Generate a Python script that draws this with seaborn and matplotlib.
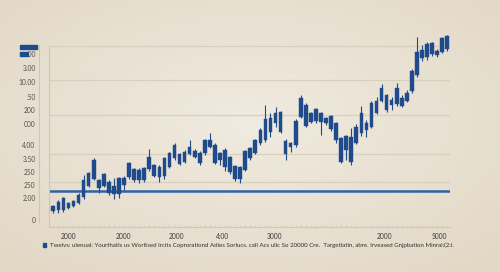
import numpy as np
import matplotlib.pyplot as plt
import matplotlib.patches as mpatches
import seaborn as sns

sns.set_theme(style="white")
plt.rcParams['font.family'] = ['Lato', 'DejaVu Sans']

# candle values (price level units)
opens  = [16, 17, 17, 24, 21, 24, 30, 41, 48, 47, 41, 45, 41, 33, 42, 50, 58, 57, 47, 58,
          62, 60, 51, 60, 69, 73, 65, 73, 76, 74, 74, 80, 82, 67, 77, 70, 61, 60, 57, 69,
          74, 84, 87, 109, 104, 115, 86, 80, 82, 110, 122, 114, 106, 114, 109, 111, 104, 89, 77, 90,
          84, 94, 104, 100, 114, 126, 132, 127, 123, 129, 126, 136, 152, 169, 170, 173, 176, 175, 178]
closes = [21, 25, 29, 19, 26, 32, 47, 54, 67, 39, 53, 34, 33, 49, 49, 64, 47, 47, 59, 70,
          51, 50, 69, 74, 82, 63, 75, 80, 70, 64, 87, 87, 64, 74, 60, 55, 48, 48, 76, 79,
          87, 97, 108, 95, 114, 95, 73, 84, 106, 129, 101, 105, 118, 105, 104, 98, 87, 65, 91, 65,
          100, 114, 97, 124, 126, 139, 117, 122, 139, 121, 134, 156, 175, 177, 183, 184, 172, 189, 191]
highs  = [22, 27, 30, 25, 27, 34, 52, 55, 69, 48, 54, 47, 49, 50, 51, 65, 59, 59, 60, 78,
          63, 62, 70, 75, 84, 74, 77, 87, 78, 76, 88, 94, 84, 75, 79, 71, 62, 61, 77, 80,
          88, 99, 122, 114, 120, 116, 88, 85, 108, 132, 124, 115, 119, 115, 110, 112, 105, 90, 92, 99,
          103, 121, 107, 126, 130, 143, 133, 130, 144, 132, 137, 158, 190, 182, 185, 185, 178, 190, 192]
lows   = [14, 14, 15, 18, 20, 23, 28, 40, 47, 34, 40, 32, 28, 29, 37, 48, 45, 44, 45, 56,
          50, 45, 48, 59, 67, 62, 64, 72, 69, 62, 72, 79, 63, 62, 56, 53, 46, 44, 56, 67,
          73, 82, 85, 90, 100, 94, 67, 75, 80, 109, 100, 104, 104, 92, 102, 96, 84, 64, 67, 62,
          83, 91, 90, 99, 113, 125, 115, 117, 121, 120, 125, 134, 150, 166, 167, 171, 170, 174, 176]

grid_levels = [45, 73, 112, 147, 181]
axis_ticks = [17, 36, 73, 112, 147, 181]
ref_level = 36.5

left_labels = [".00", "3.00", "10.00", ".50", "200", "000", "4.00", "3.50", "250", "250", "2.00", "0"]
left_label_pos = [173, 159, 145, 130, 117, 103, 82, 68, 55, 42, 29, 7]

x_labels = ["2000", "2000", "2000", "4:00", "3000", "2000", "5000"]
x_label_pos = [3.1, 13.8, 24.3, 33.6, 43.7, 65.5, 76.4]

caption = ("Twelvs: ulenual: Yourthatls us Worltsed Ircits Coprorationd Adies Sorlucs. call Acs "
           "ulic So 20000 Cre.  Targetlatin, abre. Irveased Gnjpbation Minral:(2:l.")

blue = "#1f4b8c"
grey = "#cfc6b6"

W, H = 500, 272
fig = plt.figure(figsize=(5, 2.72), dpi=100)

# background vignette
bg = fig.add_axes([0, 0, 1, 1], zorder=-10)
yy, xx = np.mgrid[0:H, 0:W]
r = np.sqrt(((xx - W * 0.5) / W) ** 2 + ((yy - H * 0.45) / H) ** 2)
r = np.clip(r / 0.7, 0, 1)
c0 = np.array([240, 235, 224]) / 255
c1 = np.array([226, 216, 198]) / 255
img = c0[None, None, :] * (1 - r[..., None]) + c1[None, None, :] * r[..., None]
bg.imshow(img, aspect='auto')
bg.axis('off')

def fx(px):
    return px / W

def fy(py):
    return 1 - py / H

ax = fig.add_axes([fx(49), fy(227), fx(450) - fx(49), fy(30) - fy(227)])
ax.set_facecolor('none')
x = np.arange(len(opens))
ax.set_xlim(-0.85, 78.55)
ax.set_ylim(0, 197)

for g in grid_levels:
    ax.axhline(g, color="#d8cfbf", lw=0.9, zorder=1)
ax.axhline(ref_level, color="#2d62a6", lw=1.8, zorder=2)

o = np.array(opens)
c = np.array(closes)
ax.vlines(x, lows, highs, color=blue, lw=0.8, zorder=3)
ax.bar(x, np.abs(c - o), bottom=np.minimum(o, c), width=0.72, color=blue,
       edgecolor=blue, linewidth=0.3, zorder=4)

for s in ['top', 'right']:
    ax.spines[s].set_visible(False)
ax.spines['left'].set_color(grey)
ax.spines['left'].set_linewidth(0.8)
ax.spines['left'].set_bounds(0, 181)
ax.spines['bottom'].set_color(grey)
ax.spines['bottom'].set_linewidth(0.8)

ax.set_yticks(axis_ticks)
ax.set_yticklabels([])
ax.tick_params(axis='y', length=3, width=0.6, color=grey, direction='out')
ax.set_xticks(x_label_pos)
ax.set_xticklabels(x_labels, fontsize=4.8, color="#3c3c3c")
ax.set_xticks(x, minor=True)
ax.tick_params(axis='x', which='major', length=0, pad=4)
ax.tick_params(axis='x', which='minor', length=1.5, width=0.5, color=grey,
               direction='in', bottom=True)

# outer label axis
ax2 = fig.add_axes([fx(39), fy(227), 0.0001, fy(30) - fy(227)])
ax2.set_facecolor('none')
ax2.set_ylim(0, 197)
for s in ['top', 'right', 'bottom']:
    ax2.spines[s].set_visible(False)
ax2.spines['left'].set_color(grey)
ax2.spines['left'].set_linewidth(0.8)
ax2.spines['left'].set_bounds(5, 182)
ax2.set_xticks([])
ax2.set_yticks(left_label_pos)
ax2.set_yticklabels(left_labels, fontsize=4.8, color="#505050")
ax2.tick_params(axis='y', length=1.5, width=0.5, color=grey, pad=1)

# small legend swatches top-left
fig.add_artist(mpatches.Rectangle((fx(20), fy(48.5)), fx(17), 3.2 / H, color=blue,
                                  transform=fig.transFigure))
fig.add_artist(mpatches.Rectangle((fx(20), fy(55.5)), fx(7.5), 3.2 / H, color=blue,
                                  transform=fig.transFigure))

# caption
fig.add_artist(mpatches.Rectangle((fx(43), fy(246.5)), fx(3.2), 3.2 / H, color=blue,
                                  transform=fig.transFigure))
fig.text(fx(50), fy(245), caption, fontsize=4.4, color="#333333", va='center', ha='left')

fig.savefig("out.png", dpi=100)
